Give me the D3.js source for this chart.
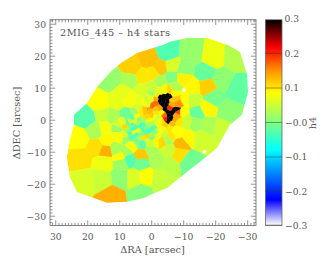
<!DOCTYPE html>
<html><head><meta charset="utf-8">
<style>html,body{margin:0;background:#fff}svg{display:block}text{font-family:"DejaVu Serif",serif;fill:#555;font-size:9.2px}.lab{font-size:9.8px}</style>
<script src="https://cdn.jsdelivr.net/npm/d3@7"></script></head><body>
<svg id="c" width="332" height="266"></svg>
<script>
const titleText = "2MIG_445 \u2013 h4 stars";
const xLabel = "\u0394RA [arcsec]";
const yLabel = "\u0394DEC [arcsec]";
const barLabel = "h4";
const axisTicks = [30,20,10,0,-10,-20,-30];
const barTicks = [0.3,0.2,0.1,0,-0.1,-0.2,-0.3];
const barTickText = ["0.3","0.2","0.1","\u22120.0","\u22120.1","\u22120.2","\u22120.3"];
const cmapStops = [-0.3,-0.226,-0.08,0,0.086,0.145,0.22,0.3];
const cmapColors = ["#ffffff","#0000ff","#00ffff","#80ff80","#ffff00","#ffa000","#ff0000","#000000"];
const outlineRa  = [-3.5,-5.7,-11,-17.3,-23.8,-27.6,-29.8,-30.1,-28.2,-24.4,-20.4,-15.1,-9.8,-4.8,.6,2.4,7.8,14,18.1,23.4,25.6,26.5,25.6,24.3,24.3,20.2,17.1,12.8,9.6,4.6,-.7];
const outlineDec = [23.5,24.5,25.7,25.7,23.5,21.3,14.2,8.8,1.7,-1.5,-8.7,-13,-17.1,-21.2,-23.4,-24.3,-25.5,-25.8,-24.3,-22.4,-17.7,-11.5,-6.2,-1.5,1.7,5.4,10.4,15.1,17.9,21,22.6];
const holeRa = [-10,-16.4];
const holeDec = [9.4,-9.9];
// outer bins
const outerRa  = [6.2,.6,-4.8,12.4,16.2,20.2,22.7,22.4,17.1,14.3,14.9,21.2,15.6,9.3,9.6,12.4,3.4,5.6,1.8,-2.6,-3.8,3.1,7.4,3.1,9.6,14,14.9,17.4,10.2,11.2,8.1,6.2,10.2,7.8,4,1.5,.2,-1.6,-9.1,-8.5,-11.6,-11.3,-8.2,-5.1,-5.7,-15.4,-23.8,-21.9,-17.3,-17.3,-14.1,-19.1,-26.9,-21.9,-16.6,-17.3,-12.6,-19.1,-26.3,-10.1,-6.3,-2.6,-.4,-6.3,-9.8,-12.6,-7,-2.6,2.8,6.8,2.8,9,10.9,15.2,12.1,7.8,4,6.8,-.1,-10.4,-12.8,-9.4,-11.3,-13.5,-8.2];
const outerDec = [16.3,18.8,21,12.6,5.1,.7,-5.8,-12.1,-8.3,-9.3,-13.4,-18.7,-18.3,-13,-17.7,-24,-23,-17.7,-17.1,-17.7,-20.2,-13.3,-12.1,-10.8,-11.5,-6.5,-2.4,-3,-2.4,-8.7,-9.9,-7.7,-5.2,-5.5,-5.2,-6.2,-9.3,-12.4,-7.1,-10.8,-13,-5.2,-3.9,-9.3,-13.9,-5.5,2.3,-2.4,-1.5,3.8,2.3,7,10.1,12.6,14.8,10.4,20.7,19.8,19.5,15.7,16.7,16.3,14.5,13.5,13.2,10.1,10.1,12,13.5,12.6,9.2,8.5,5.4,1.7,1.3,1.7,3.8,6.3,10.1,6.3,6.3,2.6,-.5,-.9,-.5];
const outerH4  = [.115,.125,-.03,.015,.085,-.025,.085,.105,.105,.135,.075,.06,.05,.02,.01,.135,.005,.06,.085,.05,.045,-.01,-.03,.12,.085,.09,.08,.03,.02,.03,.03,.08,.08,.02,.02,.06,.03,.03,.13,.105,-.01,.09,.085,.05,.04,.055,.01,.05,.03,.09,-.015,-.005,-.02,.01,-.015,.115,.015,.075,.035,.01,.06,.12,.1,0,.095,.09,.035,.03,.1,.03,.06,.07,.07,.05,.03,-.01,.06,.08,.05,.085,.05,.085,.05,.02,.1];
// central bins
const coreRa  = [-2.6,-3.8,-5.1,-2.6,-3.8,-4.8,-3.5,-4.4,-4.1,-5.1,-6.9,-7.9,-6.3,-6,-5.1,-5.7,
  -1.3,-1.3,-.1,1.2,.6,-6.3,-7.3,-8.2,-6.3,-8.2,-5.7,-5.4,-3.8,-4.1,-7.3,-6.3,-2.6,-1.3,-3.2,-7.6,-4.1,-2.6,-1,2.1,3.1,1.5,.6,-1.6,-.1,1.5,2.8,4,5.3,6.2,7.4,9,9.9,6.5,4.9,3.4,1.8,-.1,-1.9,-3.5,-5.7,-7.3,3.7,5.6,7.8,1.8,-.1,-1.9,-3.8,-5.7,2.8,7.1,-.4,1.5,.3,-1,1.8,3.4,4.9,
  8.4,6.8,5.9,4.3,2.4,.9,-1,5.9,4.3,2.8,.9,-1,-2.6,8.1,6.5,4.9,3.4,1.5,-.1,-1.3,4.6,2.8,.6,-3.2,-4.8,-3.5,
  2.1,3.4,4.6,-.1,-1.3,-1.9,1.2,2.4,
  -2.6,-4.1,-5.7,-1.6,-6.9];
const coreDec = [7.3,7.3,7.6,6,6,6,4.8,4.8,3.5,2.6,3.2,3.2,2.3,.7,-.2,7.3,
  5.4,6.7,4.5,3.5,2.6,6.3,6.7,5.1,4.8,2.6,3.8,1.7,1.7,.1,.1,-1.2,3.8,3.2,2.3,1.3,-1.5,.1,1.3,2.3,1.3,1,.1,-1.5,-1.2,-.8,-.2,.4,-.5,.7,-.8,-.8,-1.5,-2.1,-2.4,-1.5,-2.4,-2.7,-3,-2.4,-2.4,-3,-3.3,-3.7,-3,-4,-4.3,-4.9,-4.3,-4.9,-5.5,-4,8.5,6.3,6.7,8.5,4.8,6,2.3,
  -1.8,-.5,-1.5,-.8,-1.5,-1.5,-2.1,-2.7,-3.3,-3,-3.3,-3.7,-3.3,-4.6,-5.2,-4.6,-4.6,-4.9,-5.5,-6.5,-6.5,-7.1,-7.1,-6.5,-5.9,-.2,
  3.5,2.6,1.3,1.7,2.3,.7,4.8,5.7,
  8.8,9.2,9.2,7.9,8.2];
const coreH4  = [.3,.3,.3,.3,.3,.3,.3,.3,.3,.3,.3,.3,.3,.3,.3,.3,
  .17,.14,.17,.14,.13,.12,.12,.15,.14,.19,.2,.3,.17,.21,.14,.13,.14,.12,.09,.14,.12,.09,.08,.12,.1,.11,.09,.09,.03,.05,.02,0,.09,-.02,-.025,.07,.06,0,-.025,-.03,0,-.03,.06,.09,.1,.08,.05,.09,.03,-.03,.03,.08,.05,.1,.1,-.025,.02,.05,.07,.05,.09,.07,.02,
  .11,.05,-.03,.02,-.03,.02,-.02,-.035,.08,-.03,-.035,0,.08,.06,-.025,-.03,0,.11,0,.09,0,-.02,.05,.11,.03,.1,
  .12,.1,.08,.12,.1,.05,.06,.08,
  .07,.09,.11,.1,.09];

const cellRa = outerRa.concat(coreRa), cellDec = outerDec.concat(coreDec), cellH4 = outerH4.concat(coreH4);
const svg = d3.select("#c");
const x = d3.scaleLinear().domain([31.8,-32.6]).range([50,256]);
const y = d3.scaleLinear().domain([31.4,-32.9]).range([19.7,225.5]);
const color = d3.scaleLinear().domain(cmapStops).range(cmapColors).clamp(true);
const vy = d3.scaleLinear().domain([0.3,-0.3]).range([20,225]);

const outline = outlineRa.map((r,i)=>[x(r),y(outlineDec[i])]);
svg.append("clipPath").attr("id","map").append("polygon").attr("points",outline.join(" "));
const pts = cellRa.map((r,i)=>[x(r),y(cellDec[i])]);
const vor = d3.Delaunay.from(pts).voronoi([50,20,256,226]);
svg.append("g").attr("clip-path","url(#map)").selectAll("path").data(cellH4).join("path")
  .attr("d",(d,i)=>vor.renderCell(i)).attr("fill",d=>color(d)).attr("stroke",d=>color(d)).attr("stroke-width",.4);
svg.append("g").selectAll("rect").data(holeRa).join("rect")
  .attr("x",d=>x(d)-1.5).attr("y",(d,i)=>y(holeDec[i])-1.5).attr("width",3.5).attr("height",3).attr("fill","#fff");

const frameCol="#666";
const minor = d3.range(-32,32).filter(d=>d%10!==0);
function ticksX(yPos,dir){
  const g=svg.append("g").attr("stroke",frameCol).attr("stroke-width",.7);
  g.selectAll("line.mi").data(minor).join("line").attr("x1",d=>x(d)).attr("x2",d=>x(d)).attr("y1",yPos).attr("y2",yPos+dir*2.6);
  g.selectAll("line.ma").data(axisTicks).join("line").attr("x1",d=>x(d)).attr("x2",d=>x(d)).attr("y1",yPos).attr("y2",yPos+dir*5.2);
}
function ticksY(xPos,dir){
  const g=svg.append("g").attr("stroke",frameCol).attr("stroke-width",.7);
  g.selectAll("line.mi").data(minor).join("line").attr("y1",d=>y(d)).attr("y2",d=>y(d)).attr("x1",xPos).attr("x2",xPos+dir*2.6);
  g.selectAll("line.ma").data(axisTicks).join("line").attr("y1",d=>y(d)).attr("y2",d=>y(d)).attr("x1",xPos).attr("x2",xPos+dir*5.2);
}
ticksX(225.5,-1);ticksX(19.7,1);ticksY(50,1);ticksY(256,-1);
svg.append("rect").attr("x",50).attr("y",19.7).attr("width",206).attr("height",205.8).attr("fill","none").attr("stroke",frameCol).attr("stroke-width",.8);

svg.append("g").selectAll("text").data(axisTicks).join("text").attr("x",d=>x(d)).attr("y",240).attr("text-anchor","middle").text(d=>String(d).replace("-","\u2212"));
svg.append("g").selectAll("text").data(axisTicks).join("text").attr("x",46).attr("y",d=>y(d)+3.4).attr("text-anchor","end").text(d=>String(d).replace("-","\u2212"));
svg.append("text").attr("class","lab").attr("x",60).attr("y",36).attr("textLength",110).attr("lengthAdjust","spacing").text(titleText);
svg.append("text").attr("class","lab").attr("x",152.5).attr("y",253).attr("text-anchor","middle").text(xLabel);
svg.append("text").attr("class","lab").attr("transform","translate(19.5,123) rotate(-90)").attr("text-anchor","middle").text(yLabel);

// colour bar
svg.append("g").selectAll("rect").data(d3.range(0,205)).join("rect")
  .attr("x",265.5).attr("width",16.5).attr("y",d=>20+d).attr("height",1.2).attr("fill",d=>color(vy.invert(20+d+.5)));
svg.append("rect").attr("x",265.5).attr("y",224.5).attr("width",16.5).attr("height",1.5).attr("fill","#aaa");
svg.append("rect").attr("x",265.5).attr("y",19.7).attr("width",16.5).attr("height",205.8).attr("fill","none").attr("stroke",frameCol).attr("stroke-width",.8);
const by = d3.scaleLinear().domain([0.1,-0.1]).range([88,157]);
svg.append("g").selectAll("line").data(barTicks.slice(1,6)).join("line").attr("x1",265.5).attr("x2",282).attr("y1",d=>by(d)).attr("y2",d=>by(d)).attr("stroke","#333").attr("stroke-opacity",.6).attr("stroke-width",.8);
svg.append("g").selectAll("text").data(barTicks).join("text").attr("x",(d,i)=>d<=0?285:284.5).attr("y",d=>by(d)+3.4).text((d,i)=>barTickText[i]);
svg.append("text").attr("class","lab").attr("transform","translate(316,123) rotate(-90)").attr("text-anchor","middle").text(barLabel);
</script></body></html>
